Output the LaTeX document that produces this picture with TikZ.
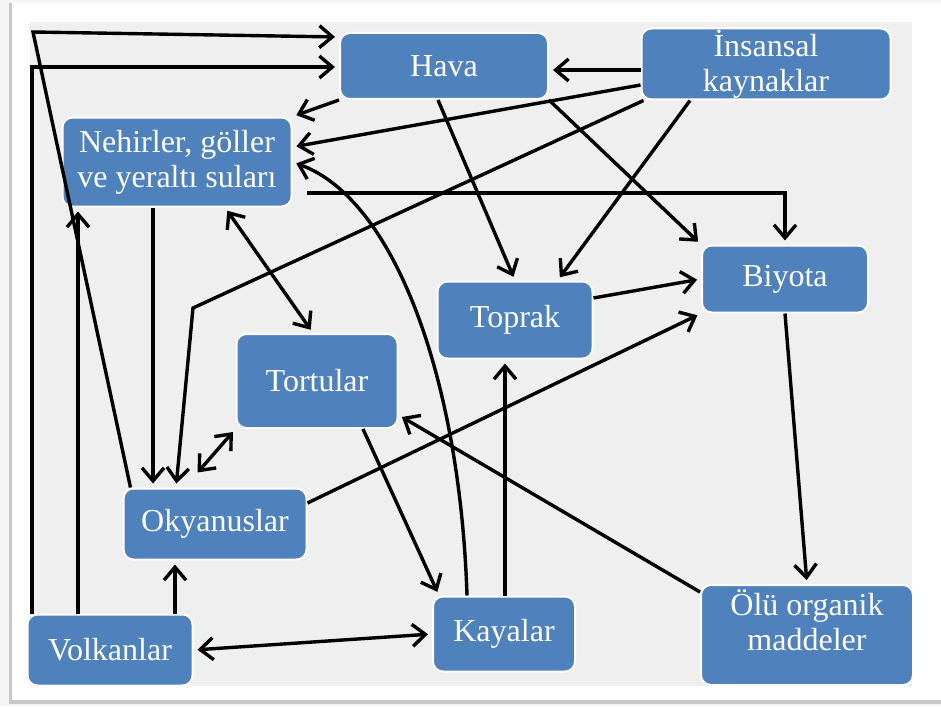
\documentclass[tikz,border=0pt]{standalone}
\usepackage{fontspec}
\setmainfont{Liberation Serif}
\usetikzlibrary{arrows.meta,positioning}
\definecolor{nodeblue}{RGB}{79,129,189}
\definecolor{panelgrey}{RGB}{239,239,239}
\definecolor{shadowgrey}{RGB}{200,200,200}

\begin{document}
\begin{tikzpicture}[x=0.5pt,y=-0.5pt,
  box/.style={draw=white,line width=1pt,fill=nodeblue,rounded corners=5pt,text=white,
    align=center,inner sep=0pt,font=\fontsize{16}{17.5}\selectfont},
  arr/.style={line width=1.7pt,-{Straight Barb[length=6.5pt,width=11pt]},shorten >=2pt},
  twoway/.style={arr,{Straight Barb[length=6.5pt,width=11pt]}-{Straight Barb[length=6.5pt,width=11pt]},shorten <=2pt}]
  \useasboundingbox (0,0) rectangle (941,706);
  \fill[black!4] (0,0) rectangle (941,706);
  \fill[shadowgrey] (9,3) rectangle (941,704);
  \fill[white] (12,3) rectangle (941,700);
  \fill[panelgrey] (30,22) rectangle (912,686);

  \node[box,minimum width=104pt,minimum height=33pt] (hava) at (444,66) {Hava};
  \node[box,minimum width=124.5pt,minimum height=35.5pt] (insan) at (766,64) {İnsansal\\kaynaklar};
  \node[box,minimum width=114.5pt,minimum height=44.5pt] (nehir) at (177,162) {Nehirler, göller\\ve yeraltı suları};
  \node[box,minimum width=83pt,minimum height=33.5pt] (biyota) at (785,279) {Biyota};
  \node[box,minimum width=77.5pt,minimum height=38.5pt] (toprak) at (515,320) {Toprak};
  \node[box,minimum width=80.5pt,minimum height=47pt] (tortu) at (317,381) {Tortular};
  \node[box,minimum width=91.5pt,minimum height=35.5pt] (okyan) at (215,524) {Okyanuslar};
  \node[box,minimum width=82.5pt,minimum height=35.5pt] (volkan) at (110,650) {Volkanlar};
  \node[box,minimum width=71pt,minimum height=37.5pt] (kaya) at (504,634) {Kayalar};
  \node[box,minimum width=106pt,minimum height=50pt,text depth=15pt] (olu) at (807,635) {Ölü organik\\maddeler};

  \coordinate (c1) at (33,32);
  \coordinate (c2) at (32,67);
  \coordinate (b1) at (193,308);

  \draw[arr] ([xshift=4pt]okyan.north west) -- (c1) -- ([yshift=14.5pt]hava.west);
  \draw[arr] (c2 |- volkan.north) -- (c2) -- (c2 -| hava.west);
  \draw[arr] ([xshift=-16pt]volkan.north) -- ([xshift=-16pt]volkan.north |- nehir.south);
  \draw[arr] ([xshift=32.5pt]volkan.north) -- ([xshift=32.5pt]volkan.north |- okyan.south);
  \draw[twoway] (volkan.east) -- (kaya.west);
  \draw[arr] (hava.south west) -- (nehir.north east);
  \draw[arr] ([yshift=-3pt]insan.west) -- ([yshift=-3pt]insan.west -| hava.east);
  \draw[arr] ([yshift=-10.5pt]insan.west) -- ([yshift=7.5pt]nehir.east);
  \draw[arr] ([xshift=1.5pt]insan.south west) -- (b1) -- ([xshift=-19.5pt]okyan.north);
  \draw[arr] ([xshift=-12pt]nehir.south) -- ([xshift=-12pt]nehir.south |- okyan.north);
  \draw[twoway] (tortu.south west) -- ([xshift=-10pt,yshift=6pt]okyan.north);
  \draw[twoway] ([xshift=24pt]nehir.south) -- ([xshift=-2pt]tortu.north);
  \draw[arr,shorten <=7pt] ([yshift=-15.5pt]nehir.east) -| (biyota.north);
  \draw[arr] ([xshift=-3pt]hava.south) -- (toprak.north);
  \draw[arr] (hava.south east) -- (biyota.north west);
  \draw[arr] ([xshift=-38pt]insan.south) -- ([xshift=-18pt]toprak.north east);
  \draw[arr] ([yshift=11pt]toprak.east) -- (biyota.west);
  \draw[arr] ([yshift=10.5pt]okyan.east) -- (biyota.south west);
  \draw[arr] (biyota.south) -- (olu.north);
  \draw[arr] ([yshift=-4pt]olu.north west) -- ([yshift=-17pt]tortu.east);
  \draw[arr] ([xshift=23pt]tortu.south) -- ([xshift=3.5pt]kaya.north west);
  \draw[arr] ([xshift=0.5pt]kaya.north) -- ([xshift=0.5pt]kaya.north |- toprak.south);
  \draw[arr] ([xshift=-18.5pt]kaya.north) .. controls +(-7,-217) and +(102,37) .. (nehir.east);
\end{tikzpicture}
\end{document}
